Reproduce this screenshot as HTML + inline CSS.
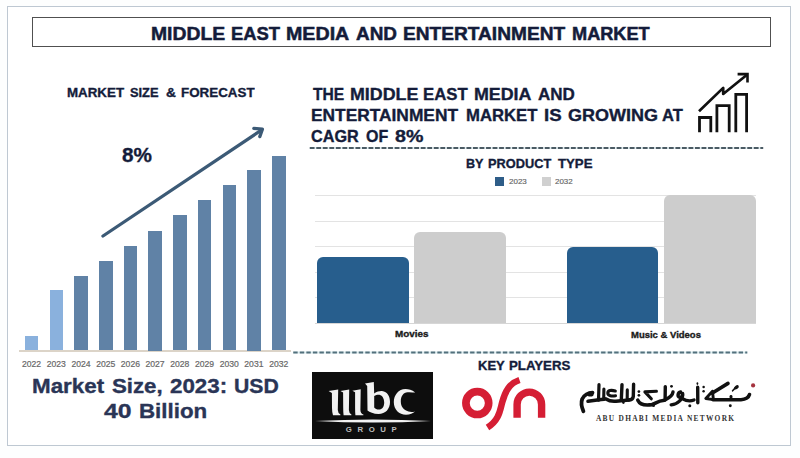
<!DOCTYPE html>
<html><head><meta charset="utf-8">
<style>
*{margin:0;padding:0;box-sizing:border-box}
html,body{width:800px;height:458px;overflow:hidden;background:#fdfefe}
body{position:relative;font-family:"Liberation Sans",sans-serif}
.a{position:absolute}
.t{position:absolute;white-space:nowrap;font-weight:bold;line-height:1;transform-origin:0 0;-webkit-text-stroke:0.35px currentColor}
#frame{left:7px;top:5.5px;width:783.8px;height:440.5px;border:1.3px solid #bec8d2;background:#fff}
#tbox{left:32px;top:16.8px;width:739px;height:30.6px;border:1.6px solid #505050}
.bar{position:absolute;width:13.7px;background:#6082a6}
.bar.l{background:#8ab1dd}
.yl{position:absolute;top:358.6px;font-size:8.6px;color:#686868;-webkit-text-stroke:0.2px #686868;width:30px;text-align:center}
.grid{position:absolute;left:315px;width:441px;height:1px;background:#e3e3e3}
.rb{position:absolute;border-radius:6px 6px 0 0}
</style></head><body>
<div id="frame" class="a"></div>
<div id="tbox" class="a"></div>
<!--w:title-->
<div class="t" style="left:150.94px;top:25.50px;font-size:17.71px;transform:scaleX(1.094);color:#141c3a;-webkit-text-stroke:0.5px #141c3a">MIDDLE</div>
<div class="t" style="left:230.89px;top:25.50px;font-size:17.71px;transform:scaleX(1.040);color:#141c3a;-webkit-text-stroke:0.5px #141c3a">EAST</div>
<div class="t" style="left:285.82px;top:25.50px;font-size:17.71px;transform:scaleX(1.110);color:#141c3a;-webkit-text-stroke:0.5px #141c3a">MEDIA</div>
<div class="t" style="left:355.87px;top:25.50px;font-size:17.71px;transform:scaleX(1.068);color:#141c3a;-webkit-text-stroke:0.5px #141c3a">AND</div>
<div class="t" style="left:402.60px;top:25.50px;font-size:17.71px;transform:scaleX(1.081);color:#141c3a;-webkit-text-stroke:0.5px #141c3a">ENTERTAINMENT</div>
<div class="t" style="left:572.41px;top:25.50px;font-size:17.71px;transform:scaleX(1.027);color:#141c3a;-webkit-text-stroke:0.5px #141c3a">MARKET</div>
<!--/w:title-->

<!--w:msf-->
<div class="t" style="left:66.80px;top:86.31px;font-size:13.21px;transform:scaleX(1.010);color:#141c3a">MARKET</div>
<div class="t" style="left:129.84px;top:86.31px;font-size:13.21px;transform:scaleX(0.971);color:#141c3a">SIZE</div>
<div class="t" style="left:166.15px;top:86.31px;font-size:13.21px;transform:scaleX(1.043);color:#141c3a">&amp;</div>
<div class="t" style="left:180.90px;top:86.31px;font-size:13.21px;transform:scaleX(1.013);color:#141c3a">FORECAST</div>
<!--/w:msf-->

<!-- left bar chart -->
<div class="a" style="left:19px;top:350.1px;width:272px;height:1.6px;background:#dcd4c8"></div>
<div class="bar l" style="left:24.8px;top:335.6px;height:14.9px"></div>
<div class="bar l" style="left:49.5px;top:290.2px;height:60.3px"></div>
<div class="bar" style="left:74.2px;top:275.6px;height:74.9px"></div>
<div class="bar" style="left:98.9px;top:260.7px;height:89.8px"></div>
<div class="bar" style="left:123.6px;top:245.7px;height:104.8px"></div>
<div class="bar" style="left:148.4px;top:230.5px;height:120.0px"></div>
<div class="bar" style="left:173.1px;top:215.3px;height:135.2px"></div>
<div class="bar" style="left:197.8px;top:200.2px;height:150.3px"></div>
<div class="bar" style="left:222.5px;top:185.2px;height:165.3px"></div>
<div class="bar" style="left:247.2px;top:170px;height:180.5px"></div>
<div class="bar" style="left:271.9px;top:155.6px;height:194.9px"></div>
<div class="yl" style="left:16.6px">2022</div>
<div class="yl" style="left:41.3px">2023</div>
<div class="yl" style="left:66.0px">2024</div>
<div class="yl" style="left:90.7px">2025</div>
<div class="yl" style="left:115.4px">2026</div>
<div class="yl" style="left:140.1px">2027</div>
<div class="yl" style="left:164.8px">2028</div>
<div class="yl" style="left:189.5px">2029</div>
<div class="yl" style="left:214.2px">2030</div>
<div class="yl" style="left:238.9px">2031</div>
<div class="yl" style="left:263.7px">2032</div>


<svg class="a" style="left:0;top:0" width="800" height="458">
  <g stroke="#3c5a76" stroke-width="3.3" fill="none" stroke-linecap="round" stroke-linejoin="round">
    <line x1="103" y1="236" x2="261.5" y2="130"/>
    <polyline points="253.8,128.4 262.4,129.2 259.8,136.6"/>
  </g>
</svg>

<div class="t" id="p8" style="left:121.8px;top:145.0px;font-size:20.5px;transform:scaleX(1.01);color:#141c3a">8%</div>

<!--w:ms1-->
<div class="t" style="left:31.56px;top:375.82px;font-size:20.00px;transform:scaleX(1.118);color:#2a3556">Market</div>
<div class="t" style="left:111.56px;top:375.82px;font-size:20.00px;transform:scaleX(1.111);color:#2a3556">Size,</div>
<div class="t" style="left:169.93px;top:375.82px;font-size:20.00px;transform:scaleX(1.117);color:#2a3556">2023:</div>
<div class="t" style="left:233.83px;top:375.82px;font-size:20.00px;transform:scaleX(1.060);color:#2a3556">USD</div>
<!--/w:ms1-->
<!--w:ms2-->
<div class="t" style="left:103.95px;top:401.27px;font-size:20.00px;transform:scaleX(1.238);color:#2a3556">40</div>
<div class="t" style="left:138.66px;top:401.27px;font-size:20.00px;transform:scaleX(1.116);color:#2a3556">Billion</div>
<!--/w:ms2-->

<!-- right headline -->
<!--w:h1-->
<div class="t" style="left:312.74px;top:86.40px;font-size:16.07px;transform:scaleX(0.972);color:#141c3a">THE</div>
<div class="t" style="left:349.83px;top:86.40px;font-size:16.07px;transform:scaleX(1.109);color:#141c3a">MIDDLE</div>
<div class="t" style="left:423.40px;top:86.40px;font-size:16.07px;transform:scaleX(1.041);color:#141c3a">EAST</div>
<div class="t" style="left:473.93px;top:86.40px;font-size:16.07px;transform:scaleX(1.110);color:#141c3a">MEDIA</div>
<div class="t" style="left:537.66px;top:86.40px;font-size:16.07px;transform:scaleX(1.059);color:#141c3a">AND</div>
<!--/w:h1-->
<!--w:h2-->
<div class="t" style="left:310.96px;top:106.90px;font-size:16.07px;transform:scaleX(1.079);color:#141c3a">ENTERTAINMENT</div>
<div class="t" style="left:466.20px;top:106.90px;font-size:16.07px;transform:scaleX(1.039);color:#141c3a">MARKET</div>
<div class="t" style="left:543.68px;top:106.90px;font-size:16.07px;transform:scaleX(1.160);color:#141c3a">IS</div>
<div class="t" style="left:567.98px;top:106.90px;font-size:16.07px;transform:scaleX(1.121);color:#141c3a">GROWING</div>
<div class="t" style="left:662.37px;top:106.90px;font-size:16.07px;transform:scaleX(1.030);color:#141c3a">AT</div>
<!--/w:h2-->
<!--w:h3-->
<div class="t" style="left:311.35px;top:127.90px;font-size:16.07px;transform:scaleX(1.009);color:#141c3a">CAGR</div>
<div class="t" style="left:366.06px;top:127.90px;font-size:16.07px;transform:scaleX(0.996);color:#141c3a">OF</div>
<div class="t" style="left:395.01px;top:127.90px;font-size:16.07px;transform:scaleX(1.221);color:#141c3a">8%</div>
<!--/w:h3-->

<!-- icon -->
<svg class="a" style="left:690px;top:66px" width="66" height="70" viewBox="690 66 66 70">
  <g stroke="#111" stroke-width="2.8" fill="none" stroke-linejoin="miter">
    <polyline points="699.5,132.2 699.5,117.5 710.8,117.5 710.8,132.2"/>
    <polyline points="716.9,132.2 716.9,105.6 729.2,105.6 729.2,132.2"/>
    <polyline points="735.8,132.2 735.8,94.4 746.6,94.4 746.6,132.2"/>
    <polyline points="699,111.3 723.2,87.9 723.2,94 747,74.8" stroke-linejoin="round" stroke-width="2.7"/>
    <polyline points="737.6,74.1 747.5,74.1 747.5,82.5" stroke-width="2.6"/>
  </g>
</svg>

<!-- dashed 1 -->
<svg class="a" style="left:0;top:0" width="800" height="458"><line x1="309.75" y1="148" x2="763.2" y2="148" stroke="#e2eef1" stroke-width="2"/><line x1="309.75" y1="148" x2="763.2" y2="148" stroke="#4b5b64" stroke-width="2" stroke-dasharray="4.8 1.73"/></svg>

<!--w:bpt-->
<div class="t" style="left:466.15px;top:156.50px;font-size:13.00px;transform:scaleX(0.966);color:#141c3a">BY</div>
<div class="t" style="left:488.23px;top:156.50px;font-size:13.00px;transform:scaleX(0.983);color:#141c3a">PRODUCT</div>
<div class="t" style="left:558.07px;top:156.50px;font-size:13.00px;transform:scaleX(1.014);color:#141c3a">TYPE</div>
<!--/w:bpt-->
<div class="a" style="left:495px;top:177px;width:9px;height:9px;background:#2e5d88"></div>
<div class="t" id="lg1" style="left:508.70px;top:178.23px;font-size:7.29px;transform:scaleX(1.098);font-weight:normal;color:#666;-webkit-text-stroke:0.15px #666">2023</div>
<div class="a" style="left:541.5px;top:177px;width:9px;height:9px;background:#d0d0d0"></div>
<div class="t" id="lg2" style="left:555.40px;top:178.23px;font-size:7.29px;transform:scaleX(1.090);font-weight:normal;color:#666;-webkit-text-stroke:0.15px #666">2032</div>

<!-- right chart -->
<div class="grid" style="top:195px"></div>
<div class="grid" style="top:220.5px"></div>
<div class="grid" style="top:246px"></div>
<div class="grid" style="top:271.5px"></div>
<div class="grid" style="top:297px"></div>
<div class="grid" style="top:322.8px;background:#d6d6d6"></div>
<div class="rb" style="left:316.5px;top:256.7px;width:92.2px;height:66.6px;background:#275e8d"></div>
<div class="rb" style="left:414.2px;top:231.5px;width:91.6px;height:91.8px;background:#cdcdcd"></div>
<div class="rb" style="left:566.5px;top:247px;width:91.7px;height:76.3px;background:#275e8d"></div>
<div class="rb" style="left:663.8px;top:195.4px;width:92.2px;height:127.9px;background:#cdcdcd"></div>
<div class="t" id="mov" style="left:395.31px;top:329.58px;font-size:9.00px;transform:scaleX(1.096);color:#1a1a1a">Movies</div>
<div class="t" id="mv" style="left:631.33px;top:330.20px;font-size:9.57px;transform:scaleX(0.992);color:#1a1a1a">Music &amp; Videos</div>

<!-- dashed 2 -->
<svg class="a" style="left:0;top:0" width="800" height="458"><line x1="293.25" y1="352.5" x2="747.3" y2="352.5" stroke="#dcecef" stroke-width="2"/><line x1="293.25" y1="352.5" x2="747.3" y2="352.5" stroke="#52707c" stroke-width="2" stroke-dasharray="4.4 2.15"/></svg>

<!--w:kp-->
<div class="t" style="left:477.97px;top:360.38px;font-size:12.79px;transform:scaleX(1.016);color:#141c3a">KEY</div>
<div class="t" style="left:508.81px;top:360.38px;font-size:12.79px;transform:scaleX(1.035);color:#141c3a">PLAYERS</div>
<!--/w:kp-->

<!-- MBC -->
<div class="a" style="left:312px;top:372.3px;width:121.4px;height:67px;background:#0d0d0d"></div>
<svg class="a" style="left:0;top:0" width="800" height="458">
 <g fill="#f2f2f2">
  <path d="M328.6,391 L338.2,389.4 L337.8,410 Q338,413.6 340.4,414.6 L340.4,415.2 L333,415.2 Q332,412 332,408 L331.9,393 Z"/>
  <path d="M340.4,390.9 L349.2,389.4 L348.9,410 Q349.1,413.6 351.4,414.6 L351.4,415.2 L343.6,415.2 Q343.2,412 343.2,408 L343.1,392.5 Z"/>
  <path d="M352.4,390.7 L360.7,389.3 L360.4,410 Q360.6,413.6 363.4,414.6 L363.4,415.2 L355.4,415.2 Q355.1,412 355.1,408 L355.1,392.3 Z"/>
  <path fill-rule="evenodd" d="M365,383.4 L373.8,381.9 L374.2,393.5 C377,391.5 380,390.9 382,391.1 C387.5,391.8 390,396.5 390,402 C390,409 385.5,414 378.5,414 C373.5,414 369.5,412 367.5,410.5 L367.2,386 Z M374.2,396 C376,394.8 378,394.6 379.5,394.8 C382.5,395.5 384.2,399 384.2,402.5 C384.2,407 382,409.6 379,409.6 C376.8,409.6 375,408.8 374.2,407.5 Z"/>
  <path d="M415.2,392.4 C412,389.6 408.5,388.9 405.5,388.9 C398.5,388.9 393.8,395 393.8,402 C393.8,409.5 399,414.7 406,414.7 C410,414.7 413,413.3 415,411.4 C412.5,412.2 410.5,412.1 408.5,411.5 C403.5,410 400.8,406.5 400.8,401.5 C400.8,396 403.5,392.5 407.5,392.2 C410.5,392 413,392.4 415.2,392.4 Z"/>
  <path d="M315,421 Q373,417.8 431,421 Q373,424.2 315,421 Z"/>
 </g>
 <text x="345.8" y="431.5" font-family="Liberation Sans" font-weight="bold" font-size="7.8" textLength="51" lengthAdjust="spacing" fill="#bdbdbd">GROUP</text>
</svg>

<!-- OSN -->
<svg class="a" style="left:0;top:0" width="800" height="458">
 <g fill="none" stroke="#d51e34" stroke-linecap="butt">
  <circle cx="477.3" cy="403.1" r="11.4" stroke-width="7.7"/>
  <path d="M487.5,427.5 C499.5,420 500,410 502.3,402 C505,392 509,383.5 519.5,380" stroke-width="6.5"/>
  <path d="M517.1,417.8 L517.1,404.4 A12.25,12.25 0 0 1 541.6,404.4 L541.6,417.8" stroke-width="7.4"/>
 </g>
</svg>

<!-- ADMN -->
<svg class="a" style="left:0;top:0" width="800" height="458">
 <g fill="none" stroke="#111" stroke-linecap="round" stroke-linejoin="round">
  <path d="M592.5,392.6 C588.5,392.8 584,395.2 582.2,399 C581,402.2 581.6,407 583.4,411.2" stroke-width="3.8"/>
  <path d="M588,401.3 L599,399.8" stroke-width="3.6"/>
  <path d="M599,384.6 L598.5,399.8" stroke-width="3.2"/>
  <path d="M603.9,389 L603.7,399.3" stroke-width="3.1"/>
  <path d="M598.5,399.8 L604,399.3" stroke-width="3.4"/>
  <path d="M615.3,391 C611,389.8 607.7,390.4 607.8,393.2 C608,396 611.5,396.3 615.5,395.8" stroke-width="3.1"/>
  <path d="M606,399 C609,401 612,401.6 616,401.2 L628.8,400" stroke-width="3.6"/>
  <path d="M622,384.7 L621.3,400" stroke-width="3.4"/>
  <path d="M627.3,389.9 L627.2,399.6" stroke-width="3.1"/>
  <path d="M633.6,384.2 L633.3,396.5 C633,399 631,400 628.5,400" stroke-width="3.4"/>
  <path d="M656.4,391.3 L644.9,391.9 L651.3,398.8" stroke-width="3.1"/>
  <path d="M637.8,400.2 C640,404.8 646,405.6 652,404.6 C655.5,403.6 657.5,401 664.5,400.3" stroke-width="3.6"/>
  <path d="M665.3,386.6 L665.1,399.8" stroke-width="3.4"/>
  <path d="M665.5,399.6 C669,398 672.5,395.5 673,392" stroke-width="3.4"/>
  <path d="M680.6,392 C677.8,392.6 677,396.5 679.8,397.4 C682.3,398.3 683.3,396 682.6,393.6 C682.3,399.5 678.2,404 671.2,404.9" stroke-width="3.4"/>
  <path d="M682.5,398.8 C686,400.8 691,401.2 694,400" stroke-width="3.4"/>
  <path d="M697.7,387.3 L697.8,402.8" stroke-width="3.4"/>
  <path d="M712.5,391.3 L705.8,398.5 L713.4,399.6 Z" stroke-width="2.9"/>
  <path d="M712.4,393 L728,383.4" stroke-width="3.6"/>
  <path d="M713,399.8 L741,399.7 C745,399.5 748.5,398 749.5,394.6" stroke-width="3.6"/>
  <path d="M731,396.3 L731,399.4" stroke-width="2.8"/>
  <path d="M732.6,390.8 L734.6,388.6" stroke-width="1.6"/>
 </g>
 <g fill="#111">
  <circle cx="638.9" cy="391.6" r="1.35"/><circle cx="638.9" cy="395.3" r="1.35"/>
  <circle cx="653.5" cy="405.6" r="1.5"/><circle cx="671.5" cy="386.3" r="1.4"/>
  <circle cx="689.8" cy="405.8" r="1.5"/><circle cx="623.4" cy="402.6" r="1.3"/>
  <ellipse cx="697.4" cy="383.6" rx="0.9" ry="1.3"/>
  <circle cx="703.6" cy="387" r="1.25"/><circle cx="703.6" cy="391.3" r="1.25"/>
  <ellipse cx="736.4" cy="387.3" rx="2.7" ry="1.7" transform="rotate(-35 736.4 387.3)"/>
  <circle cx="730.3" cy="405.8" r="1.45"/>
  <ellipse cx="590.4" cy="394" rx="3.3" ry="2.6"/>
 </g>
 <circle cx="753.1" cy="385.4" r="2.1" fill="#a5323e"/>
 <text x="596" y="420.7" font-family="Liberation Serif" font-weight="bold" font-size="7.4" textLength="138" lengthAdjust="spacing" fill="#333">ABU DHABI MEDIA NETWORK</text>
</svg>

</body></html>
